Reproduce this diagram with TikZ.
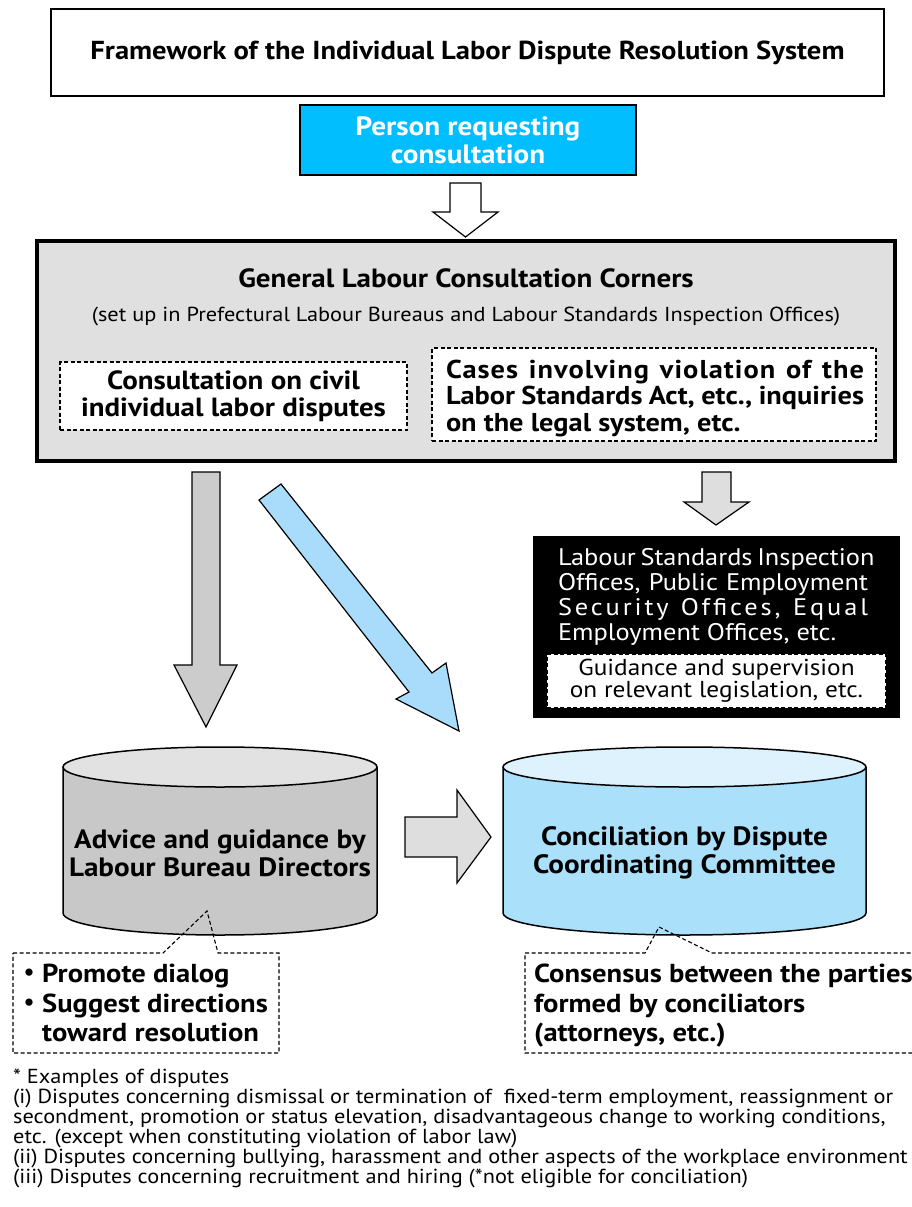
\documentclass[tikz,border=0pt]{standalone}
\usepackage{fontspec}
\setmainfont[FakeStretch=1.1]{PT Sans}
\newfontfamily\cjk{Noto Sans CJK JP}
\usetikzlibrary{calc}
\definecolor{cyanbox}{RGB}{0,190,255}
\definecolor{panelgray}{RGB}{224,224,224}
\definecolor{arrowgray}{RGB}{204,204,204}
\definecolor{lightarrow}{RGB}{222,222,222}
\definecolor{bluearrow}{RGB}{168,220,250}
\definecolor{cylgray}{RGB}{200,200,200}
\definecolor{cylgraytop}{RGB}{226,226,226}
\definecolor{cylblue}{RGB}{170,224,250}
\definecolor{cylbluetop}{RGB}{222,242,253}
\newcommand\fsz[2]{\fontsize{#1}{#2}\selectfont}
\begin{document}
\begin{tikzpicture}[x=1pt,y=-1pt,
  box/.style={draw=black,line width=1.2pt,inner sep=0pt,align=center},
  dashbox/.style={draw=black,fill=white,line width=1.1pt,dash pattern=on 4pt off 2.5pt,inner sep=0pt,align=center},
  blockarrow/.style={draw=black,line width=1.2pt,line join=miter},
  cyl/.style={draw=black,line width=1.5pt},
  callout/.style={draw=black,line width=1.1pt,dash pattern=on 4pt off 2.5pt},
  txt/.style={inner sep=0pt,align=center},
  ltxt/.style={inner sep=0pt,align=left,anchor=base west,font=\fsz{26}{28}\bfseries}]
\useasboundingbox (0,0) rectangle (912,1207);
\clip (0,0) rectangle (912,1207);

% title
\node[box,minimum width=833pt,minimum height=87pt,fill=white,font=\fsz{26}{30}\bfseries] (title) at (467.5,52.5)
  {Framework of the Individual Labor Dispute Resolution System};

% person
\node[box,fill=cyanbox,minimum width=336pt,minimum height=70pt,text=white,font=\fsz{26.5}{28}\bfseries] (person) at (468,140)
  {Person requesting\\ consultation};

% hollow arrow
\draw[blockarrow,fill=white] (450,183) -- (481,183) -- (481,212) -- (498,212) -- (465.5,237) -- (433,212) -- (450,212) -- cycle;

% general box
\node[draw=black,line width=4pt,fill=panelgray,minimum width=858pt,minimum height=220pt,inner sep=0pt] (general) at (466,351) {};
\node[txt,font=\fsz{26.4}{28}\bfseries] (gtitle) at (466,278) {General Labour Consultation Corners};
\node[txt,font=\fsz{20.3}{22}] (gsub) at (466,317) {(set up in Prefectural Labour Bureaus and Labour Standards Inspection Offices)};
\node[dashbox,minimum width=347pt,minimum height=68pt,font=\fsz{26.3}{27}\bfseries] (civil) at (233.5,396)
  {Consultation on civil\\ individual labor disputes};
\node[dashbox,minimum width=444pt,minimum height=93pt] (cases) at (654,394.5) {};
\node[txt,align=left,font=\fsz{25.8}{26.5}\bfseries] (casestxt) at (655,398.5)
  {\makebox[418pt][s]{\addfontfeature{LetterSpace=4}Cases involving violation of the}\\
   \makebox[418pt][s]{Labor Standards Act, etc., inquiries}\\
   \makebox[418pt][l]{on the legal system, etc.}};

% gray down arrow
\draw[blockarrow,fill=arrowgray] (192,472) -- (220,472) -- (220,665) -- (237,665) -- (206,727) -- (174,665) -- (192,665) -- cycle;
% blue diagonal arrow
\draw[blockarrow,fill=bluearrow] (259,500) -- (281,484) -- (432,673) -- (446,663) -- (459,731) -- (396,699) -- (409,692) -- cycle;
% small gray arrow
\draw[blockarrow,fill=lightarrow] (702,472) -- (731,472) -- (731,502) -- (749,502) -- (716,525) -- (684,502) -- (702,502) -- cycle;

% black box
\node[fill=black,minimum width=367pt,minimum height=182pt,inner sep=0pt] (offices) at (716.5,627) {};
\node[txt,text=white,align=left,font=\fsz{24}{25}] (officestxt) at (713,597)
  {\makebox[310pt][s]{Labour Standards Inspection}\\
   \makebox[310pt][s]{Offices, Public Employment}\\
   \makebox[310pt][s]{\addfontfeature{LetterSpace=12}Security Offices, Equal}\\
   \makebox[310pt][l]{Employment Offices, etc.}};
\node[dashbox,minimum width=339pt,minimum height=54pt,font=\fsz{23}{20}] (guidance) at (716.5,681)
  {Guidance and supervision\\ on relevant legislation, etc.};

% left cylinder
\fill[cylgray] (63,767) rectangle (377,913);
\fill[cylgray] (220,913) ellipse[x radius=157pt,y radius=22pt];
\draw[cyl] (63,767) -- (63,913) arc[start angle=180,end angle=360,x radius=157pt,y radius=22pt] -- (377,767);
\draw[cyl,fill=cylgraytop] (220,767) ellipse[x radius=157pt,y radius=20pt];
\node[txt,font=\fsz{26.5}{28}\bfseries] (advice) at (220,853) {Advice and guidance by\\ Labour Bureau Directors};

% right cylinder
\fill[cylblue] (503,767) rectangle (866,913);
\fill[cylblue] (684.5,913) ellipse[x radius=181.5pt,y radius=22pt];
\draw[cyl] (503,767) -- (503,913) arc[start angle=180,end angle=360,x radius=181.5pt,y radius=22pt] -- (866,767);
\draw[cyl,fill=cylbluetop] (684.5,767) ellipse[x radius=181.5pt,y radius=20pt];
\node[txt,font=\fsz{26.5}{28}\bfseries] (concil) at (684.5,853) {Conciliation by Dispute\\ Coordinating Committee};

% hollow right arrow
\draw[blockarrow,fill=lightarrow] (405,817) -- (457,817) -- (457,790) -- (491,837) -- (457,883) -- (457,857) -- (405,857) -- cycle;

% left callout
\draw[callout] (13,953) -- (163,953) -- (207,911) -- (218,953) -- (279,953) -- (279,1053) -- (13,1053) -- cycle;
\node[ltxt] (b1) at (16,982) {{\cjk ・}Promote dialog};
\node[ltxt] (b2) at (16,1012) {{\cjk ・}Suggest directions};
\node[ltxt] (b3) at (42,1041) {toward resolution};

% right callout
\draw[callout] (930,953) -- (712,953) -- (659,927) -- (645,953) -- (525,953) -- (525,1053) -- (930,1053);
\node[ltxt] (c1) at (534,982) {Consensus between the parties};
\node[ltxt] (c2) at (534,1012) {formed by conciliators};
\node[ltxt] (c3) at (534,1041) {(attorneys, etc.)};

% footnote
\node[inner sep=0pt,align=left,anchor=north west,font=\fsz{20.3}{20}] (foot) at (13,1069)
  {* Examples of disputes\\
   (i) Disputes concerning dismissal or termination of\ \ fixed-term employment, reassignment or\\
   secondment, promotion or status elevation, disadvantageous change to working conditions,\\
   etc. (except when constituting violation of labor law)\\
   (ii) Disputes concerning bullying, harassment and other aspects of the workplace environment\\
   (iii) Disputes concerning recruitment and hiring (*not eligible for conciliation)};
\end{tikzpicture}
\end{document}
